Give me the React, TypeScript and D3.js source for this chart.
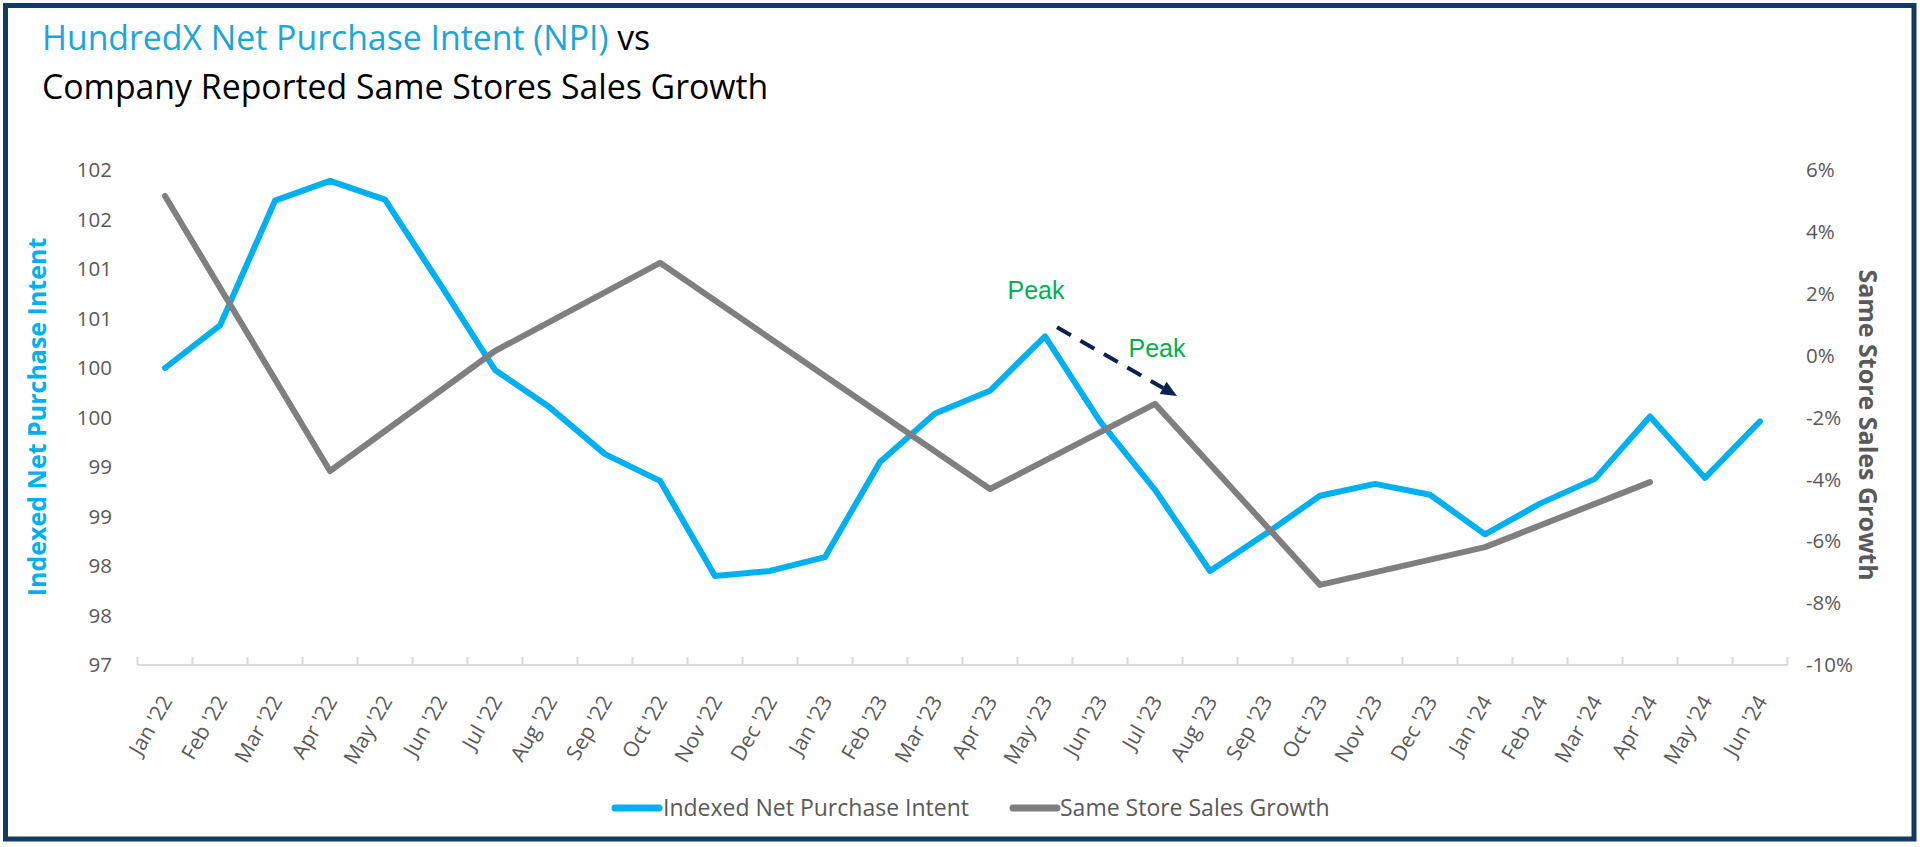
import React from 'react';
import * as d3 from 'd3';

const months = [
  "Jan '22", "Feb '22", "Mar '22", "Apr '22", "May '22", "Jun '22", "Jul '22", "Aug '22", "Sep '22", "Oct '22", "Nov '22", "Dec '22",
  "Jan '23", "Feb '23", "Mar '23", "Apr '23", "May '23", "Jun '23", "Jul '23", "Aug '23", "Sep '23", "Oct '23", "Nov '23", "Dec '23",
  "Jan '24", "Feb '24", "Mar '24", "Apr '24", "May '24", "Jun '24",
];

const npiValues = [
  100.0, 100.43, 101.69, 101.89, 101.7, 100.85, 99.98, 99.6, 99.13, 98.86, 97.9, 97.95,
  98.09, 99.05, 99.54, 99.77, 100.32, 99.46, 98.77, 97.95, 98.32, 98.71, 98.83, 98.72,
  98.32, 98.63, 98.88, 99.51, 98.89, 99.46,
];

const sssValues: (number | null)[] = [
  5.16, null, null, -3.73, null, null, 0.15, null, null, 3.0, null, null,
  -0.66, null, null, -4.31, null, null, -1.56, null, null, -7.41, null, null,
  -6.19, null, null, -4.09, null, null,
];

const leftTickValues = [97, 97.5, 98, 98.5, 99, 99.5, 100, 100.5, 101, 101.5, 102];
const rightTickValues = [-10, -8, -6, -4, -2, 0, 2, 4, 6];

const titleBlue = 'HundredX Net Purchase Intent (NPI)';
const titleBlack = ' vs';
const titleLine2 = 'Company Reported Same Stores Sales Growth';
const leftAxisTitle = 'Indexed Net Purchase Intent';
const rightAxisTitle = 'Same Store Sales Growth';
const seriesNames = ['Indexed Net Purchase Intent', 'Same Store Sales Growth'];
const peakLabel = 'Peak';

const W = 1920;
const H = 847;
const BLUE = '#00B0F0';
const GRAY = '#7F7F7F';
const TEXT = '#595959';
const FONT = "'Open Sans', sans-serif";

export default function App() {
  const x = d3.scaleBand<string>().domain(months).range([137.5, 1787.5]).padding(0);
  const cx = (m: string) => (x(m) as number) + x.bandwidth() / 2;
  const yL = d3.scaleLinear().domain([97, 102]).range([665, 170]);
  const yR = d3.scaleLinear().domain([-10, 6]).range([665, 170]);

  const npiPts = months.map((m, i) => [cx(m), yL(npiValues[i])] as [number, number]);
  const sssPts = months
    .map((m, i) => ({ m, v: sssValues[i] }))
    .filter((d) => d.v !== null)
    .map((d) => [cx(d.m), yR(d.v as number)] as [number, number]);
  const line = d3.line();

  const boundaries = months.map((m) => x(m) as number).concat([x.range()[1]]);

  // annotation anchored on data peaks
  const p1 = [cx("May '23"), yL(npiValues[16])];
  const p2 = [cx("Jul '23"), yR(sssValues[18] as number)];
  const a0 = [p1[0] + 12, p1[1] - 9];
  const tip = [p2[0] + 22, p2[1] - 8];
  const ang = Math.atan2(tip[1] - a0[1], tip[0] - a0[0]);
  const headLen = 16;
  const headW = 7;
  const base = [tip[0] - headLen * Math.cos(ang), tip[1] - headLen * Math.sin(ang)];
  const nx = -Math.sin(ang);
  const ny = Math.cos(ang);
  const head = `M${tip[0]},${tip[1]} L${base[0] + nx * headW},${base[1] + ny * headW} L${base[0] - nx * headW},${base[1] - ny * headW} Z`;

  return (
    <svg width={W} height={H} style={{ position: 'absolute', left: 0, top: 0, background: '#fff' }} fontFamily={FONT}>
      <rect x={0} y={0} width={W} height={H} fill="#fff" />
      <rect x={5.5} y={5.5} width={1908.5} height={833.5} fill="none" stroke="#133B62" strokeWidth={5} />

      {/* title */}
      <text x={42} y={50} fontSize={33.8} fill="#000">
        <tspan fill="#1AA6DB">{titleBlue}</tspan>
        <tspan>{titleBlack}</tspan>
      </text>
      <text x={42} y={99} fontSize={33.8} fill="#000">{titleLine2}</text>

      {/* x axis */}
      <line x1={x.range()[0]} x2={x.range()[1]} y1={665} y2={665} stroke="#D9D9D9" strokeWidth={2} />
      {boundaries.map((b, i) => (
        <line key={i} x1={b} x2={b} y1={657} y2={665} stroke="#D9D9D9" strokeWidth={2} />
      ))}
      {months.map((m) => (
        <text key={m} transform={`translate(${cx(m) + 8},701) rotate(-60)`} textAnchor="end" fontSize={21} fill={TEXT}>
          {m}
        </text>
      ))}

      {/* left axis */}
      {leftTickValues.map((v) => (
        <text key={v} x={112} y={yL(v)} dy="0.35em" textAnchor="end" fontSize={20.5} fill={TEXT}>
          {d3.format('.0f')(v)}
        </text>
      ))}
      <text transform={`translate(37,417) rotate(-90)`} textAnchor="middle" dy="0.35em" fontSize={25} fontWeight="bold" fill={BLUE}>
        {leftAxisTitle}
      </text>

      {/* right axis */}
      {rightTickValues.map((v) => (
        <text key={v} x={1806} y={yR(v)} dy="0.35em" textAnchor="start" fontSize={20.5} fill={TEXT}>
          {`${v}%`}
        </text>
      ))}
      <text transform={`translate(1868,425) rotate(90)`} textAnchor="middle" dy="0.35em" fontSize={25} fontWeight="bold" fill={TEXT}>
        {rightAxisTitle}
      </text>

      {/* series */}
      <path d={line(npiPts) as string} fill="none" stroke={BLUE} strokeWidth={6} strokeLinejoin="round" strokeLinecap="round" />
      <path d={line(sssPts) as string} fill="none" stroke={GRAY} strokeWidth={6} strokeLinejoin="round" strokeLinecap="round" />

      {/* annotations */}
      <text x={p1[0] - 9} y={p1[1] - 37} textAnchor="middle" fontSize={25} fill="#00B050" fontFamily="'Liberation Sans', Arial, sans-serif">
        {peakLabel}
      </text>
      <text x={p2[0] + 2} y={p2[1] - 47} textAnchor="middle" fontSize={25} fill="#00B050" fontFamily="'Liberation Sans', Arial, sans-serif">
        {peakLabel}
      </text>
      <line x1={a0[0]} y1={a0[1]} x2={base[0]} y2={base[1]} stroke="#0B1F52" strokeWidth={4} strokeDasharray="16 11" />
      <path d={head} fill="#0B1F52" />

      {/* legend */}
      <line x1={615} x2={659} y1={808} y2={808} stroke={BLUE} strokeWidth={7} strokeLinecap="round" />
      <text x={663} y={808} dy="0.35em" fontSize={23} fill={TEXT}>{seriesNames[0]}</text>
      <line x1={1013} x2={1057} y1={808} y2={808} stroke={GRAY} strokeWidth={7} strokeLinecap="round" />
      <text x={1060} y={808} dy="0.35em" fontSize={23} fill={TEXT}>{seriesNames[1]}</text>
    </svg>
  );
}
